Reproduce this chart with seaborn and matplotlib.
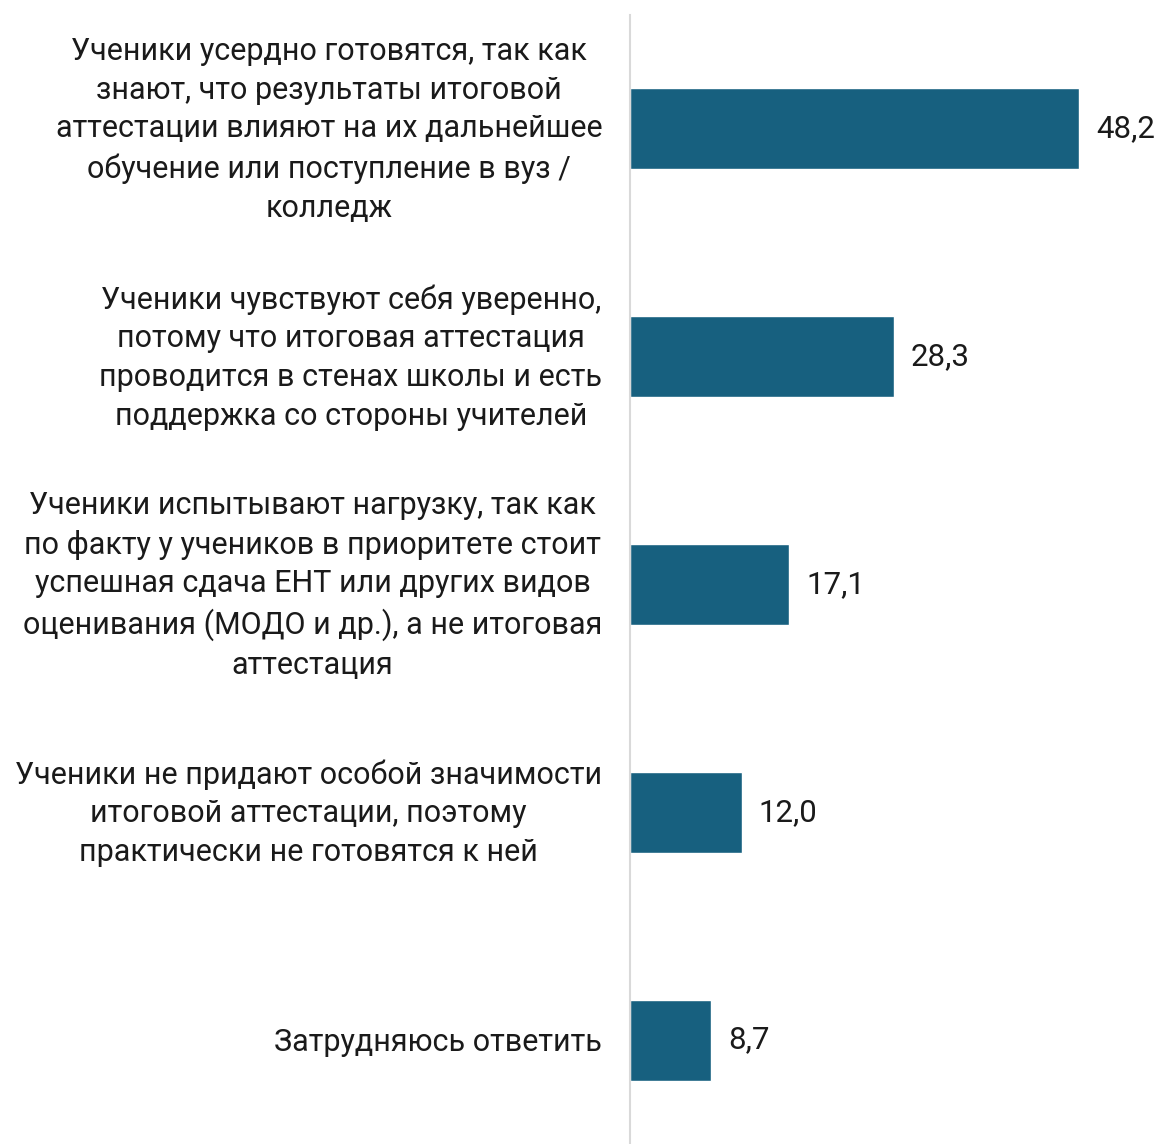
import matplotlib
matplotlib.use("Agg")
import matplotlib.pyplot as plt
import matplotlib.transforms as mtransforms
import seaborn as sns
import pandas as pd

categories = [
    "Ученики усердно готовятся, так как\nзнают, что результаты итоговой\nаттестации влияют на их дальнейшее\nобучение или поступление в вуз /\nколледж",
    "Ученики чувствуют себя уверенно,\nпотому что итоговая аттестация\nпроводится в стенах школы и есть\nподдержка со стороны учителей",
    "Ученики испытывают нагрузку, так как\nпо факту у учеников в приоритете стоит\nуспешная сдача ЕНТ или других видов\nоценивания (МОДО и др.), а не итоговая\nаттестация",
    "Ученики не придают особой значимости\nитоговой аттестации, поэтому\nпрактически не готовятся к ней",
    "Затрудняюсь ответить",
]
values = [48.2, 28.3, 17.1, 12.0, 8.7]
value_labels = ["48,2", "28,3", "17,1", "12,0", "8,7"]

sns.set_theme(style="white")
plt.rcParams["font.family"] = ["Roboto", "DejaVu Sans"]

df = pd.DataFrame({"cat": categories, "val": values})

fig = plt.figure(figsize=(11.59, 11.44), dpi=100)
ax = fig.add_axes([630 / 1159, 0.0, 1 - 630 / 1159, 1 - 15 / 1144])

sns.barplot(data=df, y="cat", x="val", orient="h", color="#17607F",
            saturation=1, width=0.355, ax=ax)

ax.set_xlim(0, 56.8)
ax.set_ylim(4.456, -0.5)
ax.set_xlabel("")
ax.set_ylabel("")
ax.set_xticks([])
ax.set_yticks(range(len(categories)))
ax.set_yticklabels(categories, fontsize=22, color="#1a1a1a",
                   multialignment="center", linespacing=1.42)
ax.tick_params(axis="y", length=0, pad=20)

for lbl in ax.get_yticklabels():
    shift = 7 if "\n" in lbl.get_text() else 1
    off = mtransforms.ScaledTranslation(0, shift / 100, fig.dpi_scale_trans)
    lbl.set_transform(lbl.get_transform() + off)

for s in ["top", "right", "bottom"]:
    ax.spines[s].set_visible(False)
ax.spines["left"].set_color("#d9d9d9")
ax.spines["left"].set_linewidth(1.5)

for i, (v, lab) in enumerate(zip(values, value_labels)):
    ax.annotate(lab, xy=(v, i), xytext=(17, 0), textcoords="offset pixels",
                ha="left", va="center", fontsize=22.5, color="#1a1a1a")

fig.savefig("out.png", dpi=100)
